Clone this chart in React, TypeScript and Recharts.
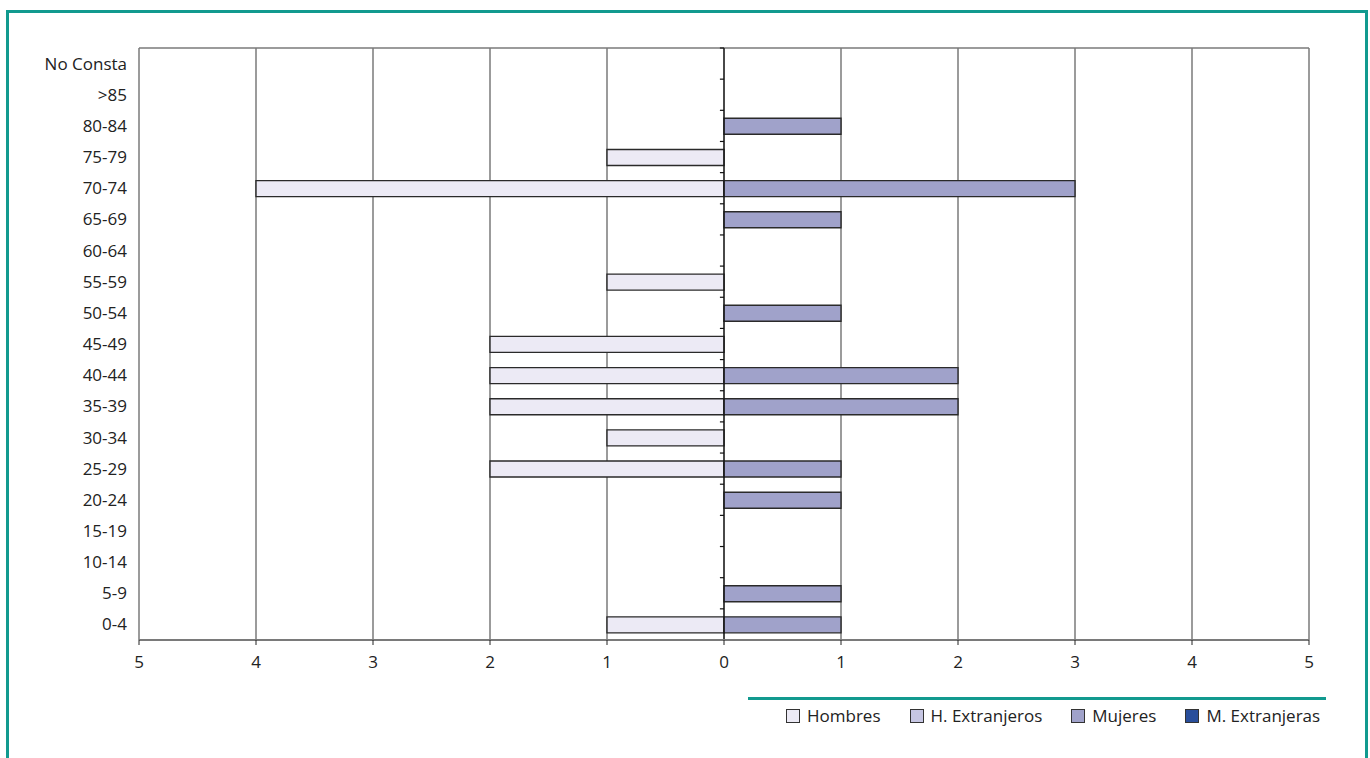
import React from 'react';
import {
  BarChart,
  Bar,
  XAxis,
  YAxis,
  CartesianGrid,
  ReferenceLine,
} from 'recharts';

// age groups, top to bottom as drawn
const categories = [
  'No Consta', '>85', '80-84', '75-79', '70-74', '65-69', '60-64', '55-59', '50-54',
  '45-49', '40-44', '35-39', '30-34', '25-29', '20-24', '15-19', '10-14', '5-9', '0-4',
];

const hombres = [0, 0, 0, 1, 4, 0, 0, 1, 0, 2, 2, 2, 1, 2, 0, 0, 0, 0, 1];
const hExtranjeros = [0, 0, 0, 0, 0, 0, 0, 0, 0, 0, 0, 0, 0, 0, 0, 0, 0, 0, 0];
const mujeres = [0, 0, 1, 0, 3, 1, 0, 0, 1, 0, 2, 2, 0, 1, 1, 0, 0, 1, 1];
const mExtranjeras = [0, 0, 0, 0, 0, 0, 0, 0, 0, 0, 0, 0, 0, 0, 0, 0, 0, 0, 0];

const xTicks = [-5, -4, -3, -2, -1, 0, 1, 2, 3, 4, 5];

const series = [
  { key: 'hombres', name: 'Hombres', color: '#ECEAF5' },
  { key: 'hExtranjeros', name: 'H. Extranjeros', color: '#C6C6E3' },
  { key: 'mujeres', name: 'Mujeres', color: '#A0A2CA' },
  { key: 'mExtranjeras', name: 'M. Extranjeras', color: '#294E9B' },
];

// numeric position of each age group (band centre), so band edges fall on whole numbers
const data = categories.map((c, i) => ({
  cat: c,
  pos: i + 0.5,
  hombres: -hombres[i],
  hExtranjeros: -hExtranjeros[i],
  mujeres: mujeres[i],
  mExtranjeras: mExtranjeras[i],
}));
const yTicks = data.map((d) => d.pos);
const bandEdges = Array.from({ length: categories.length + 1 }, (_, i) => i);

const FONT = '"Open Sans", sans-serif';
const TEAL = '#119A8F';
const GRID = '#7a7a7a';

export default function App() {
  return (
    <div style={{ position: 'absolute', left: 0, top: 0, width: 1370, height: 758, background: '#fff', fontFamily: FONT, overflow: 'hidden' }}>
      <div style={{
        position: 'absolute', left: 6, top: 10, width: 1356, height: 800,
        borderTop: `3px solid ${TEAL}`, borderLeft: `3px solid ${TEAL}`, borderRight: `3px solid ${TEAL}`,
      }} />
      <div style={{ position: 'absolute', left: 0, top: 0 }}>
        <BarChart
          width={1370}
          height={758}
          data={data}
          layout="vertical"
          stackOffset="sign"
          barSize={16}
          margin={{ top: 48, right: 61, left: 29, bottom: 88 }}
        >
          <CartesianGrid horizontal={false} vertical stroke={GRID} strokeWidth={1.5} />
          <XAxis
            type="number"
            domain={[-5, 5]}
            ticks={xTicks}
            interval={0}
            tickFormatter={(v: number) => String(Math.abs(v))}
            axisLine={{ stroke: GRID, strokeWidth: 2 }}
            tickLine={{ stroke: '#222' }}
            tickSize={5}
            tickMargin={11}
            height={30}
            tick={{ fill: '#222', fontSize: 17, fontFamily: FONT }}
          />
          <YAxis
            type="number"
            dataKey="pos"
            domain={[0, categories.length]}
            ticks={yTicks}
            interval={0}
            tickFormatter={(v: number) => categories[Math.floor(v)]}
            width={110}
            axisLine={false}
            tickLine={false}
            tickMargin={6}
            tick={{ fill: '#222', fontSize: 17, fontFamily: FONT }}
          />
          <ReferenceLine y={0} stroke={GRID} strokeWidth={1.5} />
          {series.map((s) => (
            <Bar
              key={s.key}
              dataKey={s.key}
              name={s.name}
              stackId="a"
              fill={s.color}
              stroke="#2a2a2a"
              strokeWidth={1.4}
              isAnimationActive={false}
            />
          ))}
          <ReferenceLine x={0} stroke="#111" strokeWidth={1.2} />
          {bandEdges.map((e) => (
            <ReferenceLine
              key={'t' + e}
              segment={[{ x: -0.035, y: e }, { x: 0, y: e }]}
              stroke="#111"
              strokeWidth={1.2}
            />
          ))}
        </BarChart>
      </div>
      <div style={{ position: 'absolute', left: 748, top: 697, width: 578, height: 0, borderTop: `3px solid ${TEAL}` }} />
      <div style={{ position: 'absolute', left: 786, top: 704, display: 'flex', alignItems: 'center', fontSize: 17, color: '#222', whiteSpace: 'nowrap' }}>
        {series.map((s, i) => (
          <div key={s.key} style={{ display: 'flex', alignItems: 'center', marginRight: i < series.length - 1 ? 29 : 0 }}>
            <span style={{ display: 'inline-block', width: 12, height: 12, background: s.color, border: '1px solid #333', marginRight: 7 }} />
            <span>{s.name}</span>
          </div>
        ))}
      </div>
    </div>
  );
}
